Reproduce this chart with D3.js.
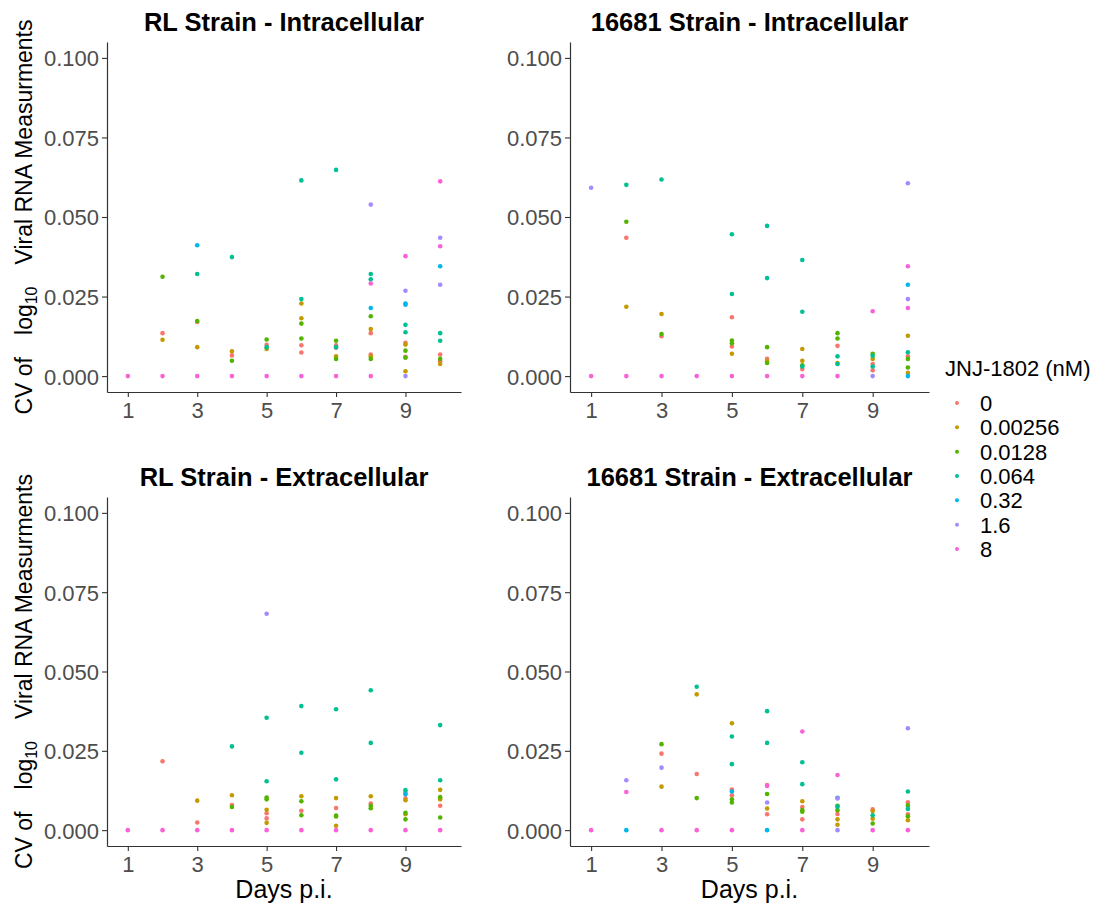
<!DOCTYPE html>
<html>
<head>
<meta charset="utf-8">
<script src="https://cdn.jsdelivr.net/npm/d3@7"></script>
<style>
  body { margin: 0; background: #fff; }
  svg { font-family: "Liberation Sans", Arial, sans-serif; }
</style>
</head>
<body>
<div id="chart"></div>
<script>
"use strict";

// JNJ-1802 concentrations (nM) and their ggplot hue colours
const doses = ["0", "0.00256", "0.0128", "0.064", "0.32", "1.6", "8"];
const doseColors = ["#F8766D", "#C49A00", "#53B400", "#00C094", "#00B6EB", "#A58AFF", "#FB61D7"];

const xTicks = [1, 3, 5, 7, 9];
const yTicks = [0, 0.025, 0.05, 0.075, 0.1];

// rows: [day, dose index, CV]
const rlIntra = [
  [1, 6, 0],
  [2, 2, 0.0312], [2, 0, 0.0135], [2, 1, 0.0114], [2, 6, 0],
  [3, 4, 0.0411], [3, 3, 0.0321], [3, 0, 0.0170], [3, 2, 0.0173], [3, 1, 0.0091], [3, 6, 0],
  [4, 3, 0.0374], [4, 1, 0.0078], [4, 0, 0.0065], [4, 2, 0.0048], [4, 6, 0],
  [5, 2, 0.0115], [5, 0, 0.0098], [5, 3, 0.0091], [5, 1, 0.0085], [5, 6, 0],
  [6, 3, 0.0615], [6, 3, 0.0242], [6, 1, 0.0228], [6, 1, 0.0182], [6, 2, 0.0165], [6, 2, 0.0118],
  [6, 0, 0.0097], [6, 0, 0.0074], [6, 6, 0],
  [7, 3, 0.0648], [7, 2, 0.0111], [7, 0, 0.0097], [7, 3, 0.0091], [7, 0, 0.0089], [7, 1, 0.0062],
  [7, 2, 0.0054], [7, 6, 0],
  [8, 5, 0.0539], [8, 3, 0.0321], [8, 3, 0.0304], [8, 6, 0.0291], [8, 4, 0.0214], [8, 2, 0.0188],
  [8, 1, 0.0148], [8, 0, 0.0135], [8, 0, 0.0068], [8, 1, 0.0062], [8, 2, 0.0054], [8, 6, 0],
  [9, 6, 0.0377], [9, 5, 0.0268], [9, 4, 0.0228], [9, 4, 0.0224], [9, 3, 0.0161], [9, 3, 0.0138],
  [9, 0, 0.0105], [9, 1, 0.0099], [9, 2, 0.0080], [9, 0, 0.0061], [9, 2, 0.0058], [9, 1, 0.0015], [9, 5, 0],
  [10, 6, 0.0612], [10, 5, 0.0435], [10, 6, 0.0408], [10, 4, 0.0345], [10, 5, 0.0287], [10, 3, 0.0135],
  [10, 3, 0.0111], [10, 0, 0.0068], [10, 2, 0.0054], [10, 0, 0.0047], [10, 1, 0.0038],
];

const strain16681Intra = [
  [1, 5, 0.0592], [1, 6, 0],
  [2, 3, 0.0601], [2, 2, 0.0485], [2, 0, 0.0435], [2, 1, 0.0218], [2, 6, 0],
  [3, 3, 0.0618], [3, 1, 0.0195], [3, 0, 0.0125], [3, 2, 0.0132], [3, 6, 0],
  [4, 6, 0],
  [5, 3, 0.0446], [5, 3, 0.0258], [5, 0, 0.0185], [5, 2, 0.0112], [5, 2, 0.0103], [5, 0, 0.0093],
  [5, 1, 0.0070], [5, 6, 0],
  [6, 3, 0.0472], [6, 3, 0.0308], [6, 2, 0.0091], [6, 0, 0.0054], [6, 1, 0.0047], [6, 2, 0.0041], [6, 6, 0],
  [7, 3, 0.0365], [7, 3, 0.0202], [7, 1, 0.0085], [7, 1, 0.0048], [7, 2, 0.0034], [7, 3, 0.0030],
  [7, 0, 0.0022], [7, 6, 0],
  [8, 2, 0.0135], [8, 2, 0.0118], [8, 0, 0.0095], [8, 3, 0.0062], [8, 1, 0.0041], [8, 3, 0.0038], [8, 6, 0],
  [9, 6, 0.0204], [9, 2, 0.0070], [9, 3, 0.0064], [9, 1, 0.0054], [9, 0, 0.0038], [9, 3, 0.0030],
  [9, 0, 0.0018], [9, 5, 0],
  [10, 5, 0.0606], [10, 6, 0.0345], [10, 4, 0.0287], [10, 5, 0.0242], [10, 6, 0.0214], [10, 1, 0.0127],
  [10, 3, 0.0075], [10, 0, 0.0062], [10, 2, 0.0054], [10, 2, 0.0027], [10, 1, 0.0010], [10, 4, 0],
];

const rlExtra = [
  [1, 6, 0],
  [2, 0, 0.0217], [2, 6, 0],
  [3, 1, 0.0093], [3, 0, 0.0024], [3, 6, 0],
  [4, 3, 0.0264], [4, 1, 0.0110], [4, 0, 0.0079], [4, 2, 0.0073], [4, 6, 0],
  [5, 5, 0.0682], [5, 3, 0.0354], [5, 3, 0.0154], [5, 2, 0.0103], [5, 2, 0.0097], [5, 1, 0.0064],
  [5, 0, 0.0053], [5, 0, 0.0037], [5, 1, 0.0023], [5, 6, 0],
  [6, 3, 0.0391], [6, 3, 0.0244], [6, 1, 0.0107], [6, 2, 0.0091], [6, 0, 0.0061], [6, 2, 0.0047], [6, 6, 0],
  [7, 3, 0.0381], [7, 3, 0.0160], [7, 1, 0.0101], [7, 0, 0.0070], [7, 2, 0.0046], [7, 2, 0.0043],
  [7, 1, 0.0014], [7, 6, 0],
  [8, 3, 0.0441], [8, 3, 0.0275], [8, 1, 0.0107], [8, 0, 0.0084], [8, 2, 0.0077], [8, 2, 0.0069], [8, 6, 0],
  [9, 3, 0.0126], [9, 0, 0.0119], [9, 4, 0.0113], [9, 0, 0.0100], [9, 1, 0.0094], [9, 2, 0.0055],
  [9, 1, 0.0050], [9, 2, 0.0034], [9, 6, 0],
  [10, 3, 0.0331], [10, 3, 0.0157], [10, 1, 0.0127], [10, 2, 0.0104], [10, 1, 0.0097], [10, 0, 0.0077],
  [10, 2, 0.0040], [10, 6, 0],
];

const strain16681Extra = [
  [1, 6, 0],
  [2, 5, 0.0157], [2, 6, 0.0120], [2, 4, 0],
  [3, 2, 0.0271], [3, 0, 0.0241], [3, 5, 0.0197], [3, 1, 0.0137], [3, 6, 0],
  [4, 3, 0.0452], [4, 1, 0.0428], [4, 0, 0.0177], [4, 2, 0.0101], [4, 6, 0],
  [5, 1, 0.0337], [5, 3, 0.0295], [5, 3, 0.0208], [5, 0, 0.0128], [5, 4, 0.0122], [5, 0, 0.0110],
  [5, 2, 0.0097], [5, 2, 0.0087], [5, 6, 0],
  [6, 3, 0.0375], [6, 3, 0.0275], [6, 0, 0.0142], [6, 6, 0.0139], [6, 2, 0.0114], [6, 5, 0.0087],
  [6, 1, 0.0068], [6, 0, 0.0050], [6, 4, 0],
  [7, 6, 0.0311], [7, 3, 0.0214], [7, 3, 0.0145], [7, 1, 0.0091], [7, 0, 0.0073], [7, 2, 0.0063],
  [7, 2, 0.0058], [7, 0, 0.0034], [7, 6, 0],
  [8, 6, 0.0174], [8, 3, 0.0102], [8, 5, 0.0100], [8, 2, 0.0077], [8, 3, 0.0074], [8, 2, 0.0063],
  [8, 0, 0.0051], [8, 1, 0.0034], [8, 1, 0.0017], [8, 5, 0],
  [9, 0, 0.0066], [9, 1, 0.0060], [9, 3, 0.0047], [9, 1, 0.0036], [9, 2, 0.0021], [9, 6, 0],
  [10, 5, 0.0321], [10, 3, 0.0122], [10, 0, 0.0088], [10, 2, 0.0078], [10, 3, 0.0067], [10, 0, 0.0050],
  [10, 2, 0.0044], [10, 1, 0.0031], [10, 6, 0],
];

const panels = [
  { title: "RL Strain - Intracellular", data: rlIntra, left: 107, right: 461, top: 42, bottom: 392, xTitle: false },
  { title: "16681 Strain - Intracellular", data: strain16681Intra, left: 570, right: 929, top: 42, bottom: 392, xTitle: false },
  { title: "RL Strain - Extracellular", data: rlExtra, left: 107, right: 461, top: 497, bottom: 846, xTitle: true },
  { title: "16681 Strain - Extracellular", data: strain16681Extra, left: 570, right: 929, top: 497, bottom: 846, xTitle: true },
];

const width = 1102;
const height = 909;
const svg = d3.select("#chart").append("svg").attr("width", width).attr("height", height);

panels.forEach((p) => {
  const x = d3.scaleLinear().domain([0.4, 10.6]).range([p.left, p.right]);
  const y = d3.scaleLinear().domain([-0.005, 0.105]).range([p.bottom, p.top]);
  const g = svg.append("g");

  const xAxis = g.append("g")
    .attr("transform", `translate(0,${p.bottom})`)
    .call(d3.axisBottom(x).tickValues(xTicks).tickSize(5).tickPadding(5).tickSizeOuter(0));
  const yAxis = g.append("g")
    .attr("transform", `translate(${p.left},0)`)
    .call(d3.axisLeft(y).tickValues(yTicks).tickFormat(d3.format(".3f")).tickSize(5).tickPadding(3).tickSizeOuter(0));

  [xAxis, yAxis].forEach((ax) => {
    ax.select(".domain").attr("stroke", "#333").attr("stroke-width", 1.2);
    ax.selectAll(".tick line").attr("stroke", "#333").attr("stroke-width", 1.1);
    ax.selectAll(".tick text")
      .attr("fill", "#4D4D4D")
      .attr("font-size", 22)
      .attr("font-family", "'Liberation Sans', Arial, sans-serif");
  });
  yAxis.selectAll(".tick text").attr("dy", "0.36em");

  const sorted = p.data.slice().sort((a, b) => a[1] - b[1]);
  g.selectAll("circle.pt")
    .data(sorted)
    .join("circle")
    .attr("class", "pt")
    .attr("cx", (d) => x(d[0]))
    .attr("cy", (d) => y(d[2]))
    .attr("r", 2.3)
    .attr("fill", (d) => doseColors[d[1]]);

  g.append("text")
    .attr("x", (p.left + p.right) / 2)
    .attr("y", p.top - 11)
    .attr("text-anchor", "middle")
    .attr("font-size", 25.5)
    .attr("font-weight", "bold")
    .attr("fill", "#000")
    .text(p.title);

  if (p.xTitle) {
    g.append("text")
      .attr("x", (p.left + p.right) / 2)
      .attr("y", p.bottom + 52)
      .attr("text-anchor", "middle")
      .attr("font-size", 25)
      .attr("fill", "#000")
      .text("Days p.i.");
  }

  // y title only beside the left column
  if (p.left < 200) {
    const cy = (p.top + p.bottom) / 2;
    const yt = g.append("text")
      .attr("transform", `translate(32,${cy}) rotate(-90)`)
      .attr("text-anchor", "middle")
      .attr("font-size", 23)
      .attr("fill", "#000");
    yt.append("tspan").text("CV of");
    yt.append("tspan").attr("dx", 22).text("log");
    yt.append("tspan").attr("font-size", 16).attr("dy", 5).text("10");
    yt.append("tspan").attr("dx", 22).attr("dy", -5).text("Viral RNA Measurments");
  }
});

// legend
const legend = svg.append("g").attr("transform", "translate(945,0)");
legend.append("text")
  .attr("x", 0)
  .attr("y", 376)
  .attr("font-size", 22)
  .attr("fill", "#000")
  .text("JNJ-1802 (nM)");

const legendY = d3.scalePoint().domain(doses).range([403, 549]);
const items = legend.selectAll("g.item")
  .data(doses)
  .join("g")
  .attr("class", "item")
  .attr("transform", (d) => `translate(0,${legendY(d)})`);
items.append("circle").attr("cx", 12).attr("cy", 0).attr("r", 2).attr("fill", (d, i) => doseColors[i]);
items.append("text")
  .attr("x", 35)
  .attr("y", 0)
  .attr("dy", "0.36em")
  .attr("font-size", 22)
  .attr("fill", "#000")
  .text((d) => d);
</script>
</body>
</html>
